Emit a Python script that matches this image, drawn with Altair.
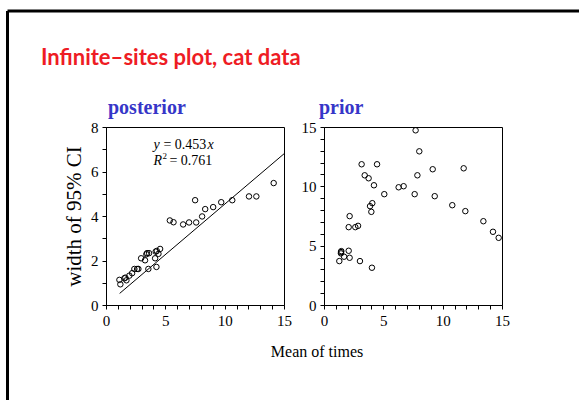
import altair as alt
import pandas as pd

# ---------------- data ----------------
post_x = [1.13, 1.21, 1.55, 1.63, 1.72, 1.97, 2.20, 2.39, 2.62, 2.73, 2.96, 3.29,
          3.40, 3.46, 3.63, 3.57, 4.14, 4.19, 4.28, 4.25, 4.42, 4.56, 5.38, 5.69,
          6.50, 7.00, 7.51, 7.60, 8.10, 8.36, 9.03, 9.71, 10.64, 12.05, 12.67, 14.13]
post_y = [1.13, 0.93, 1.20, 1.23, 1.11, 1.32, 1.43, 1.62, 1.62, 1.62, 2.10, 2.01,
          2.28, 2.33, 2.33, 1.62, 2.10, 2.40, 2.43, 1.71, 2.30, 2.52, 3.80, 3.72,
          3.62, 3.71, 4.71, 3.71, 3.98, 4.31, 4.40, 4.62, 4.71, 4.88, 4.88, 5.48]

prior_x = [1.29, 1.43, 1.43, 1.46, 1.69, 2.08, 2.08, 2.16, 2.16, 2.64, 2.87, 3.03,
           3.17, 3.43, 3.76, 3.88, 3.99, 4.07, 4.04, 4.21, 4.47, 5.08, 6.29, 6.71,
           7.64, 7.72, 7.87, 8.03, 9.16, 9.33, 10.81, 11.77, 11.91, 13.43, 14.24, 14.72]
prior_y = [3.70, 4.46, 4.35, 4.54, 4.07, 4.57, 6.56, 7.49, 3.98, 6.56, 6.67, 3.70,
           11.86, 10.93, 10.68, 8.33, 7.85, 8.58, 3.14, 10.09, 11.86, 9.34, 9.92, 10.01,
           9.34, 14.72, 10.93, 12.95, 11.44, 9.17, 8.41, 11.52, 7.91, 7.06, 6.17, 5.66]

fit_slope = 0.453
fit_r2 = 0.761
fit_x = [1.15, 15.0]

main_title = "Infinite\u2013sites plot, cat data"
panel_titles = ["posterior", "prior"]
x_title = "Mean of times"
y_title = "width of 95% CI"

x_ticks = list(range(0, 16))
post_y_ticks = list(range(0, 9))
prior_y_ticks = list(range(0, 16))

# ---------------- styling ----------------
SERIF = "Liberation Serif"
TITLE_FONT = "Lato"
RED = "#ee1c24"
BLUE = "#3636c8"
W, H = 178, 178

post_df = pd.DataFrame({"x": post_x, "y": post_y})
prior_df = pd.DataFrame({"x": prior_x, "y": prior_y})
fit_df = pd.DataFrame({"x": fit_x, "y": [fit_slope * v for v in fit_x]})
one = pd.DataFrame({"a": [0]})

lab5 = "datum.value % 5 == 0 ? datum.label : ''"
lab2 = "datum.value % 2 == 0 ? datum.label : ''"


def x_enc():
    return alt.X("x:Q", scale=alt.Scale(domain=[0, 15], nice=False, zero=False),
                 axis=alt.Axis(values=x_ticks, labelExpr=lab5, title=None,
                               labelOverlap=False, labelFlush=False))


def post_y_enc():
    return alt.Y("y:Q", scale=alt.Scale(domain=[0, 8], nice=False),
                 axis=alt.Axis(values=post_y_ticks, labelExpr=lab2, title=y_title,
                               labelOverlap=False,
                               titleFont=SERIF, titleFontSize=21, titleFontWeight="normal",
                               titleColor="black", titlePadding=6))


post_pts = alt.Chart(post_df).mark_point(
    shape="circle", filled=False, color="black", size=30, strokeWidth=1, opacity=1
).encode(x=x_enc(), y=post_y_enc())

fit_line = alt.Chart(fit_df).mark_line(color="black", strokeWidth=1).encode(
    x=x_enc(), y=post_y_enc()
)

eq_df = pd.DataFrame({
    "x": [4.0, 4.0, 4.0, 4.0, 4.0, 4.0],
    "y": [7.0, 7.0, 7.0, 6.3, 6.3, 6.3],
    "t": ["y", "= %.3f" % fit_slope, "x", "R", "2", "= %.3f" % fit_r2],
})


def eq_piece(i, dx, dy=0, size=14, style="normal"):
    return alt.Chart(eq_df.iloc[[i]]).mark_text(
        align="left", baseline="alphabetic", font=SERIF, fontSize=size,
        fontStyle=style, color="black", dx=dx, dy=dy
    ).encode(x=x_enc(), y=post_y_enc(), text="t:N")


eq = alt.layer(
    eq_piece(0, 0, style="italic"),
    eq_piece(1, 10),
    eq_piece(2, 54, style="italic"),
    eq_piece(3, 0, style="italic"),
    eq_piece(4, 9, dy=-6, size=9),
    eq_piece(5, 16),
)

# slide frame (left and top rules)
frame_v = alt.Chart(one).mark_rule(color="black", strokeWidth=3).encode(
    x=alt.value(-98.5), y=alt.value(-116), y2=alt.value(273)
)
frame_h = alt.Chart(one).mark_rule(color="black", strokeWidth=3).encode(
    x=alt.value(-98.5), x2=alt.value(473), y=alt.value(-116)
)

title_txt = alt.Chart(pd.DataFrame({"t": [main_title]})).mark_text(
    align="left", baseline="alphabetic", font=TITLE_FONT, fontWeight="bold",
    fontSize=22, color=RED
).encode(x=alt.value(-65), y=alt.value(-62), text="t:N")

post_title = alt.Chart(pd.DataFrame({"t": [panel_titles[0]]})).mark_text(
    align="left", baseline="alphabetic", font=SERIF, fontWeight="bold",
    fontSize=20, color=BLUE
).encode(x=alt.value(2), y=alt.value(-13), text="t:N")

xlab = alt.Chart(pd.DataFrame({"t": [x_title]})).mark_text(
    align="center", baseline="alphabetic", font=SERIF, fontSize=16, color="black"
).encode(x=alt.value(211), y=alt.value(230), text="t:N")

posterior = alt.layer(
    post_pts, fit_line, eq, frame_v, frame_h, title_txt, post_title, xlab
).properties(width=W, height=H)

prior_pts = alt.Chart(prior_df).mark_point(
    shape="circle", filled=False, color="black", size=30, strokeWidth=1, opacity=1
).encode(
    x=x_enc(),
    y=alt.Y("y:Q", scale=alt.Scale(domain=[0, 15], nice=False),
            axis=alt.Axis(values=prior_y_ticks, labelExpr=lab5, title=None,
                          labelOverlap=False)),
)

prior_title = alt.Chart(pd.DataFrame({"t": [panel_titles[1]]})).mark_text(
    align="left", baseline="alphabetic", font=SERIF, fontWeight="bold",
    fontSize=20, color=BLUE
).encode(x=alt.value(-5), y=alt.value(-13), text="t:N")

prior = alt.layer(prior_pts, prior_title).properties(width=W, height=H)

chart = alt.hconcat(posterior, prior, spacing=40, bounds="flush").properties(
    padding={"left": 5, "top": 9, "right": 0, "bottom": 0},
    background="white",
).configure_view(
    stroke="black", strokeWidth=1
).configure_axis(
    grid=False, domainColor="black", domainWidth=1, tickColor="black",
    tickSize=4, tickWidth=1, labelFont=SERIF, labelFontSize=15,
    labelColor="black", labelPadding=4
)

chart.save("out.html", embed_options={"renderer": "svg", "actions": False})
